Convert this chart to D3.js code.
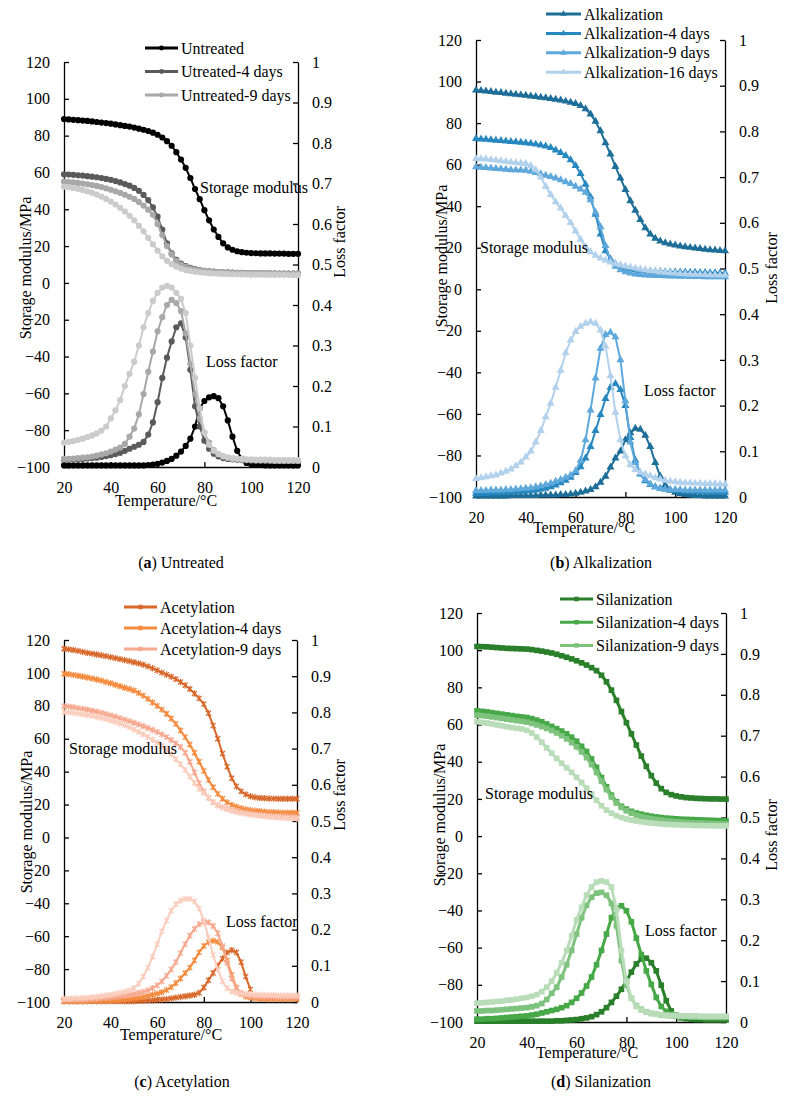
<!DOCTYPE html>
<html>
<head>
<meta charset="utf-8">
<script src="https://cdn.jsdelivr.net/npm/d3@7"></script>
<style>
  body { margin: 0; background: #fff; }
  svg { display: block; }
</style>
</head>
<body>
<div id="fig"></div>
<script>
// temperature grid shared by every curve (°C)
const TEMPS = [20,22,24,26,28,30,32,34,36,38,40,42,44,46,48,50,52,54,56,58,60,62,64,66,68,70,72,74,76,78,80,82,84,86,88,90,92,94,96,98,100,102,104,106,108,110,112,114,116,118,120];

const MOD_TICKS = [-100,-80,-60,-40,-20,0,20,40,60,80,100,120];
const LOSS_TICKS = [0,0.1,0.2,0.3,0.4,0.5,0.6,0.7,0.8,0.9,1];
const TEMP_TICKS = [20,40,60,80,100,120];

// ---- (a) Untreated ----
const untreatedLabels = ["Untreated", "Utreated-4 days", "Untreated-9 days", ""];
const modUntreated   = [89,88.8,88.6,88.4,88.2,88,87.7,87.4,87.1,86.8,86.5,86.1,85.7,85.3,84.9,84.4,83.8,83.2,82.5,81.6,80.5,79,77,74.5,71,67,62.5,57,51,45.5,39.5,34,29,25,21.5,19.3,18,17.2,16.7,16.4,16.2,16.1,16,16,16,15.9,15.9,15.9,15.8,15.8,15.8];
const modUntreated4  = [59,58.9,58.7,58.5,58.3,58,57.7,57.4,57,56.5,56,55.3,54.6,53.7,52.8,51.6,50,47.8,45,41,36,29,21.5,16,12.5,10.5,9.2,8.2,7.5,7,6.6,6.3,6.1,5.9,5.8,5.7,5.6,5.5,5.5,5.4,5.4,5.3,5.3,5.2,5.2,5.1,5.1,5.1,5,5,5];
const modUntreated9  = [55,54.8,54.6,54.3,54,53.6,53.2,52.7,52.1,51.4,50.6,49.8,48.9,47.9,46.8,45.6,44,42,39.8,37,32,26,20,15.5,12,10,8.7,7.8,7.2,6.8,6.5,6.2,6,5.9,5.8,5.7,5.6,5.5,5.5,5.4,5.4,5.3,5.3,5.3,5.2,5.2,5.2,5.1,5.1,5.1,5];
const modUntreatedX  = [52.3,52,51.6,51.1,50.5,49.8,49,48,46.9,45.6,44.2,42.6,40.8,38.8,36.5,34,31,28,24.5,21,17.5,14.5,12,10.2,8.8,7.8,7,6.5,6.1,5.8,5.5,5.3,5.1,5,4.9,4.8,4.7,4.7,4.6,4.6,4.5,4.5,4.5,4.5,4.4,4.4,4.4,4.4,4.3,4.3,4.3];
const lossUntreated  = [0.004,0.004,0.004,0.004,0.004,0.004,0.004,0.004,0.004,0.004,0.004,0.004,0.004,0.004,0.004,0.004,0.004,0.004,0.005,0.006,0.008,0.011,0.015,0.02,0.028,0.038,0.052,0.07,0.1,0.145,0.163,0.172,0.175,0.17,0.15,0.115,0.075,0.04,0.02,0.01,0.006,0.005,0.005,0.004,0.004,0.004,0.004,0.004,0.004,0.004,0.004];
const lossUntreated4 = [0.018,0.018,0.019,0.019,0.02,0.021,0.022,0.023,0.025,0.027,0.029,0.032,0.035,0.04,0.045,0.05,0.055,0.062,0.08,0.11,0.16,0.22,0.27,0.31,0.345,0.355,0.32,0.24,0.15,0.1,0.065,0.045,0.033,0.026,0.022,0.02,0.019,0.018,0.017,0.017,0.016,0.016,0.016,0.016,0.015,0.015,0.015,0.015,0.015,0.015,0.015];
const lossUntreated9 = [0.02,0.02,0.021,0.022,0.023,0.024,0.026,0.028,0.031,0.034,0.038,0.043,0.048,0.057,0.075,0.095,0.13,0.18,0.235,0.285,0.335,0.37,0.4,0.413,0.405,0.385,0.33,0.255,0.18,0.12,0.085,0.06,0.042,0.032,0.026,0.022,0.02,0.019,0.018,0.017,0.017,0.016,0.016,0.016,0.016,0.015,0.015,0.015,0.015,0.015,0.015];
const lossUntreatedX = [0.06,0.062,0.064,0.067,0.07,0.074,0.078,0.083,0.09,0.1,0.12,0.14,0.165,0.2,0.23,0.26,0.3,0.345,0.38,0.41,0.43,0.443,0.447,0.443,0.43,0.415,0.38,0.3,0.22,0.145,0.085,0.055,0.04,0.032,0.027,0.024,0.022,0.021,0.02,0.019,0.019,0.018,0.018,0.018,0.018,0.017,0.017,0.017,0.017,0.017,0.017];

// ---- (b) Alkalization ----
const alkLabels = ["Alkalization", "Alkalization-4 days", "Alkalization-9 days", "Alkalization-16 days"];
const modAlk    = [95.8,95.6,95.4,95.1,94.8,94.6,94.3,94,93.8,93.5,93.3,93,92.7,92.4,92.1,91.8,91.4,91,90.5,90,89.4,88.4,86.8,84.3,80.8,76.2,70.5,65,59,53.5,48,42.5,38,33.5,29.5,26.5,24.5,23.2,22.3,21.7,21.2,20.8,20.4,20.1,19.8,19.5,19.2,19,18.8,18.6,18.4];
const modAlk4   = [72.5,72.3,72.1,71.9,71.7,71.5,71.3,71.1,70.9,70.7,70.5,70.2,69.8,69.4,68.9,68.2,67,65.8,64.3,62.3,59.5,55.7,50.5,44.4,36,26.5,18.5,14.5,12.3,11,10.2,9.7,9.3,9,8.8,8.7,8.6,8.5,8.4,8.3,8.3,8.2,8.2,8.1,8.1,8,8,7.9,7.9,7.8,7.8];
const modAlk9   = [58.9,58.7,58.5,58.3,58.1,57.9,57.7,57.5,57.4,57.3,57.2,56.7,56.1,55.5,54.8,54.2,53.5,52.6,51.7,50.8,49.5,48.2,46.6,43,37,30,21,14,11,9.3,8.3,7.7,7.3,7,6.8,6.7,6.6,6.5,6.4,6.3,6.3,6.2,6.2,6.1,6.1,6.1,6,6,6,6,6];
const modAlk16  = [62.9,62.8,62.6,62.4,62.1,61.8,61.5,61.2,60.9,60.7,60.5,59.5,57.5,54,49.5,45.5,42,39,35.5,32,28,24,20.5,18,16.3,15,14,13,12.3,11.7,11.1,10.6,10.1,9.7,9.3,9,8.7,8.4,8.1,7.9,7.7,7.5,7.4,7.3,7.2,7.1,7,6.9,6.9,6.8,6.8];
const lossAlk   = [0.002,0.002,0.002,0.002,0.002,0.002,0.002,0.003,0.003,0.003,0.003,0.003,0.003,0.004,0.004,0.004,0.004,0.005,0.005,0.006,0.008,0.01,0.013,0.016,0.022,0.032,0.045,0.065,0.085,0.1,0.125,0.14,0.15,0.148,0.135,0.11,0.075,0.045,0.026,0.015,0.01,0.007,0.005,0.004,0.003,0.003,0.002,0.002,0.002,0.002,0.002];
const lossAlk4  = [0.008,0.008,0.008,0.009,0.009,0.01,0.01,0.011,0.011,0.012,0.013,0.014,0.015,0.017,0.019,0.022,0.026,0.031,0.036,0.043,0.053,0.066,0.085,0.11,0.145,0.18,0.215,0.24,0.248,0.235,0.2,0.13,0.08,0.05,0.035,0.027,0.022,0.019,0.017,0.015,0.014,0.013,0.012,0.012,0.011,0.011,0.011,0.01,0.01,0.01,0.01];
const lossAlk9  = [0.014,0.014,0.014,0.015,0.015,0.015,0.016,0.016,0.017,0.018,0.019,0.02,0.022,0.024,0.027,0.03,0.034,0.038,0.043,0.048,0.057,0.08,0.125,0.19,0.26,0.325,0.355,0.36,0.35,0.3,0.21,0.12,0.075,0.052,0.038,0.028,0.022,0.019,0.017,0.016,0.016,0.016,0.015,0.015,0.015,0.015,0.015,0.015,0.015,0.015,0.015];
const lossAlk16 = [0.04,0.042,0.044,0.046,0.048,0.052,0.056,0.061,0.068,0.076,0.087,0.1,0.12,0.145,0.175,0.205,0.24,0.277,0.315,0.343,0.362,0.373,0.38,0.383,0.38,0.365,0.33,0.265,0.185,0.125,0.09,0.07,0.06,0.054,0.05,0.046,0.042,0.039,0.036,0.034,0.033,0.032,0.031,0.031,0.03,0.03,0.029,0.029,0.029,0.028,0.028];

// ---- (c) Acetylation ----
const acetLabels = ["Acetylation", "Acetylation-4 days", "Acetylation-9 days", ""];
const modAcet   = [114.7,114.3,113.9,113.4,112.8,112.2,111.7,111.2,110.7,110.2,109.6,109,108.4,107.8,107.2,106.5,105.8,105,104,102.8,101.5,100.2,99,97.7,96.2,94.5,92.5,90.2,87.5,84.5,81,75.5,68,60,51,43,36,31,28,26.2,25,24.4,24,23.8,23.7,23.6,23.5,23.5,23.5,23.5,23.5];
const modAcet4  = [99.5,99.2,98.8,98.3,97.8,97.2,96.6,96,95.3,94.5,93.7,92.8,91.9,91,90.2,89.3,87.8,86.2,84.2,82,80,77.7,75.2,72.3,69,65,61,56.5,51.5,46,40.5,35,30.5,26.5,23.5,21.3,19.8,18.7,17.8,17.1,16.6,16.2,15.9,15.6,15.4,15.3,15.2,15.1,15,15,15];
const modAcet9  = [79.8,79.5,79.1,78.6,78.1,77.6,77,76.4,75.7,75,74.2,73.4,72.5,71.6,70.7,69.7,68.7,67.6,66.5,65.3,64,62.6,61,59.2,57.2,55,51.5,46,39.5,33,28,24,21.3,19.5,18.3,17.4,16.7,16.1,15.5,15,14.6,14.2,13.8,13.5,13.2,13,12.8,12.6,12.5,12.4,12.3];
const modAcetX  = [76.2,76,75.7,75.3,74.9,74.4,73.9,73.3,72.6,71.9,71.1,70.2,69.2,68.1,66.9,65.6,64.2,62.7,61.1,59.4,57.6,55.6,53.3,50.5,47.5,44.5,41,37,33,29.5,27,24.3,21.5,19.8,18.4,17.2,16.2,15.4,14.8,14.3,13.9,13.5,13.2,12.9,12.6,12.4,12.1,11.9,11.7,11.5,11.4];
const lossAcet  = [0.002,0.002,0.002,0.002,0.002,0.002,0.002,0.002,0.002,0.002,0.002,0.002,0.002,0.002,0.002,0.002,0.003,0.003,0.004,0.005,0.006,0.007,0.008,0.01,0.012,0.014,0.016,0.018,0.02,0.025,0.04,0.06,0.08,0.1,0.12,0.137,0.143,0.137,0.11,0.07,0.035,null,null,null,null,null,null,null,null,null,null];
const lossAcet4 = [0.002,0.002,0.002,0.002,0.002,0.003,0.003,0.003,0.003,0.004,0.004,0.005,0.006,0.007,0.008,0.01,0.012,0.014,0.017,0.02,0.023,0.027,0.033,0.041,0.052,0.065,0.08,0.095,0.115,0.137,0.155,0.165,0.169,0.166,0.15,0.115,0.075,0.04,0.022,0.015,0.012,0.01,0.009,0.009,0.008,0.008,0.008,0.008,0.008,0.008,0.008];
const lossAcet9 = [0.005,0.005,0.006,0.006,0.007,0.007,0.008,0.009,0.01,0.011,0.012,0.014,0.016,0.018,0.02,0.022,0.025,0.028,0.032,0.038,0.046,0.057,0.072,0.09,0.11,0.135,0.16,0.183,0.202,0.215,0.221,0.22,0.21,0.19,0.155,0.108,0.065,0.038,0.025,0.019,0.016,0.015,0.015,0.014,0.014,0.014,0.013,0.013,0.013,0.013,0.013];
const lossAcetX = [0.009,0.009,0.01,0.01,0.011,0.012,0.013,0.014,0.016,0.018,0.02,0.022,0.025,0.028,0.032,0.038,0.05,0.07,0.095,0.125,0.16,0.195,0.225,0.252,0.27,0.28,0.285,0.285,0.278,0.258,0.225,0.178,0.13,0.09,0.057,0.038,0.029,0.025,0.023,0.022,0.021,0.02,0.02,0.019,0.019,0.019,0.018,0.018,0.018,0.018,0.018];

// ---- (d) Silanization ----
const silLabels = ["Silanization", "Silanization-4 days", "Silanization-9 days", ""];
const modSil    = [102,101.9,101.8,101.6,101.4,101.2,101,100.9,100.8,100.7,100.6,100.3,99.9,99.5,99,98.5,97.8,97,96.2,95.3,94.3,93.2,92,90.6,89,86.5,83,78.5,73,67,61,55,49,43,37.5,32.5,28.5,25.5,23.5,22.3,21.6,21.1,20.7,20.5,20.3,20.2,20.1,20,20,19.9,19.9];
const modSil4   = [67.4,67.1,66.8,66.4,66,65.6,65.2,64.8,64.4,64.1,63.8,63.2,62.4,61.5,60.3,59,57.8,56.5,55,53.2,51,48.3,45.5,41.5,37,31.5,26.5,22,18.5,16,14.5,13.3,12.4,11.8,11.2,10.7,10.3,10,9.7,9.5,9.3,9.1,9,8.9,8.8,8.7,8.6,8.5,8.4,8.3,8.2];
const modSil9   = [65.1,64.8,64.5,64.1,63.7,63.3,62.9,62.5,62.1,61.7,61.3,60.6,59.8,58.9,57.9,56.8,55.5,54,52.3,50.3,48,45.3,42.2,38.5,34.2,29.5,25,21,17.8,15.4,13.6,12.3,11.3,10.5,9.9,9.4,9,8.6,8.3,8,7.8,7.6,7.4,7.2,7.1,7,6.9,6.8,6.7,6.6,6.5];
const modSilX   = [61.5,61.2,60.8,60.3,59.8,59.3,58.8,58.4,58,57.6,56.9,55.5,53.3,50.5,47.5,44.6,41.8,39.2,36.8,34.3,31.6,28.8,25.8,22.5,19.3,16.3,14,12.3,11,10,9.2,8.6,8.1,7.7,7.3,7,6.8,6.5,6.3,6.2,6.1,6,5.9,5.8,5.7,5.7,5.6,5.6,5.5,5.5,5.5];
const lossSil   = [0.002,0.002,0.002,0.002,0.002,0.002,0.002,0.002,0.002,0.002,0.002,0.002,0.002,0.002,0.002,0.002,0.003,0.003,0.004,0.005,0.006,0.008,0.01,0.013,0.018,0.025,0.035,0.048,0.063,0.08,0.1,0.122,0.142,0.154,0.156,0.145,0.125,0.09,0.052,0.027,0.015,0.01,0.008,0.007,0.006,0.006,0.005,0.005,0.005,0.005,0.005];
const lossSil4  = [0.007,0.007,0.008,0.008,0.009,0.01,0.011,0.012,0.013,0.014,0.015,0.017,0.019,0.022,0.025,0.028,0.031,0.035,0.04,0.048,0.058,0.071,0.088,0.11,0.14,0.175,0.215,0.255,0.278,0.284,0.272,0.245,0.205,0.165,0.125,0.092,0.06,0.038,0.026,0.02,0.017,0.015,0.014,0.013,0.013,0.012,0.012,0.012,0.012,0.012,0.012];
const lossSil9  = [0.027,0.027,0.028,0.028,0.029,0.03,0.031,0.032,0.033,0.034,0.035,0.037,0.04,0.045,0.055,0.07,0.085,0.11,0.14,0.175,0.215,0.255,0.285,0.305,0.315,0.317,0.31,0.29,0.235,0.15,0.09,0.058,0.04,0.031,0.025,0.021,0.019,0.017,0.016,0.015,0.014,0.013,0.013,0.012,0.012,0.012,0.011,0.011,0.011,0.011,0.011];
const lossSilX  = [0.046,0.047,0.048,0.049,0.05,0.051,0.053,0.054,0.056,0.058,0.06,0.063,0.067,0.074,0.085,0.1,0.12,0.145,0.175,0.21,0.25,0.28,0.31,0.33,0.342,0.345,0.342,0.33,0.275,0.175,0.1,0.058,0.038,0.029,0.024,0.021,0.019,0.018,0.017,0.016,0.016,0.015,0.015,0.015,0.015,0.014,0.014,0.014,0.014,0.014,0.014];

const FONT = "'Liberation Serif', 'Times New Roman', serif";

const MARKS = {
  circle: d3.symbol(d3.symbolCircle, 30)(),
  triangle: d3.symbol(d3.symbolTriangle, 28)(),
  square: d3.symbol(d3.symbolSquare, 32)(),
  star: "M-2.5,-2.5L2.5,2.5M-2.5,2.5L2.5,-2.5M0,-3.2L0,3.2"
};

// layout of the four panels (pixels)
const panels = [
  {
    tag: "a", name: "Untreated", labels: untreatedLabels,
    mod: [modUntreated, modUntreated4, modUntreated9, modUntreatedX],
    loss: [lossUntreated, lossUntreated4, lossUntreated9, lossUntreatedX],
    colors: ["#000000", "#5a5a5a", "#a8a8a8", "#cbcbcb"],
    marker: "circle", lineW: 2,
    x0: 64, x1: 298, yTop: 62, yBot: 467,
    legend: { x: 145, y: 48, dy: 23.5, len: 33 },
    leftTitle: [31, 268], rightTitle: [345, 242], xTitle: [166, 506],
    modNote: [200, 193], lossNote: [206, 367], caption: [181, 568]
  },
  {
    tag: "b", name: "Alkalization", labels: alkLabels,
    mod: [modAlk, modAlk4, modAlk9, modAlk16],
    loss: [lossAlk, lossAlk4, lossAlk9, lossAlk16],
    colors: ["#1d6e98", "#2787bf", "#5ea8db", "#b2d1ec"],
    marker: "triangle", lineW: 2,
    x0: 476, x1: 725, yTop: 40, yBot: 497,
    legend: { x: 546, y: 14, dy: 19.4, len: 35 },
    leftTitle: [447, 256], rightTitle: [777, 268], xTitle: [584, 533],
    modNote: [480, 253], lossNote: [644, 396], caption: [601, 568]
  },
  {
    tag: "c", name: "Acetylation", labels: acetLabels,
    mod: [modAcet, modAcet4, modAcet9, modAcetX],
    loss: [lossAcet, lossAcet4, lossAcet9, lossAcetX],
    colors: ["#d8672a", "#f48b3e", "#f7a98f", "#fbcdbd"],
    marker: "star", lineW: 2,
    x0: 64, x1: 297, yTop: 640, yBot: 1002,
    legend: { x: 124, y: 607, dy: 21, len: 33 },
    leftTitle: [32, 822], rightTitle: [345, 795], xTitle: [171, 1040],
    modNote: [69, 754], lossNote: [226, 927], caption: [182, 1087]
  },
  {
    tag: "d", name: "Silanization", labels: silLabels,
    mod: [modSil, modSil4, modSil9, modSilX],
    loss: [lossSil, lossSil4, lossSil9, lossSilX],
    colors: ["#2a7f2a", "#47a847", "#7dc27d", "#b9dcb9"],
    marker: "square", lineW: 3,
    x0: 477, x1: 726, yTop: 613, yBot: 1022,
    legend: { x: 560, y: 599, dy: 23.2, len: 33 },
    leftTitle: [445, 815], rightTitle: [777, 835], xTitle: [587, 1058],
    modNote: [485, 799], lossNote: [645, 936], caption: [601, 1087]
  }
];

const svg = d3.select("#fig").append("svg")
  .attr("width", 788)
  .attr("height", 1096)
  .attr("font-family", FONT);

function styleAxis(ax) {
  ax.attr("font-family", FONT).attr("font-size", null);
  ax.selectAll("text").attr("font-size", 16).attr("fill", "#000");
  ax.selectAll("path, line").attr("stroke", "#000").attr("stroke-width", 1.3);
}

function drawMarkers(g, pts, x, y, p, color) {
  const star = p.marker === "star";
  g.append("g")
    .selectAll("path")
    .data(pts.filter(d => d[1] != null))
    .join("path")
    .attr("transform", d => `translate(${x(d[0])},${y(d[1])})`)
    .attr("d", MARKS[p.marker])
    .attr("fill", star ? "none" : color)
    .attr("stroke", star ? color : "none")
    .attr("stroke-width", 1.2);
}

function drawPanel(p) {
  const x = d3.scaleLinear().domain([20, 120]).range([p.x0, p.x1]);
  const yMod = d3.scaleLinear().domain([-100, 120]).range([p.yBot, p.yTop]);
  const yLoss = d3.scaleLinear().domain([0, 1]).range([p.yBot, p.yTop]);
  const g = svg.append("g");

  // axes
  styleAxis(g.append("g")
    .attr("transform", `translate(${p.x0},0)`)
    .call(d3.axisLeft(yMod).tickValues(MOD_TICKS).tickSizeInner(-5).tickSizeOuter(0).tickPadding(14)));
  styleAxis(g.append("g")
    .attr("transform", `translate(${p.x1},0)`)
    .call(d3.axisRight(yLoss).tickValues(LOSS_TICKS).tickFormat(d => String(d))
      .tickSizeInner(-5).tickSizeOuter(0).tickPadding(14)));
  styleAxis(g.append("g")
    .attr("transform", `translate(0,${p.yBot})`)
    .call(d3.axisBottom(x).tickValues(TEMP_TICKS).tickSizeInner(-5).tickSizeOuter(0).tickPadding(15)));

  // curves
  const curve = y => d3.line()
    .defined(d => d[1] != null)
    .x(d => x(d[0]))
    .y(d => y(d[1]));

  [[p.mod, yMod], [p.loss, yLoss]].forEach(([set, y]) => {
    set.forEach((vals, i) => {
      const pts = TEMPS.map((t, k) => [t, vals[k]]);
      g.append("path")
        .datum(pts)
        .attr("d", curve(y))
        .attr("fill", "none")
        .attr("stroke", p.colors[i])
        .attr("stroke-width", p.lineW)
        .attr("stroke-linejoin", "round");
      drawMarkers(g, pts, x, y, p, p.colors[i]);
    });
  });

  // legend (unlabelled series are left out)
  const leg = g.append("g");
  p.labels.forEach((label, i) => {
    if (!label) return;
    const ly = p.legend.y + i * p.legend.dy;
    leg.append("line")
      .attr("x1", p.legend.x).attr("x2", p.legend.x + p.legend.len)
      .attr("y1", ly).attr("y2", ly)
      .attr("stroke", p.colors[i]).attr("stroke-width", 3);
    const mx = p.legend.x + p.legend.len / 2;
    leg.append("path")
      .attr("transform", `translate(${mx},${ly}) scale(0.8)`)
      .attr("d", MARKS[p.marker])
      .attr("fill", p.marker === "star" ? "none" : p.colors[i])
      .attr("stroke", p.marker === "star" ? p.colors[i] : "none")
      .attr("stroke-width", 1.4);
    leg.append("text")
      .attr("x", p.legend.x + p.legend.len + 3)
      .attr("y", ly)
      .attr("dy", "0.35em")
      .attr("font-size", 16)
      .text(label);
  });

  // axis titles
  g.append("text")
    .attr("transform", `translate(${p.leftTitle[0]},${p.leftTitle[1]}) rotate(-90)`)
    .attr("text-anchor", "middle")
    .attr("font-size", 16)
    .text("Storage modulus/MPa");
  g.append("text")
    .attr("transform", `translate(${p.rightTitle[0]},${p.rightTitle[1]}) rotate(-90)`)
    .attr("text-anchor", "middle")
    .attr("font-size", 16)
    .text("Loss factor");
  g.append("text")
    .attr("x", p.xTitle[0]).attr("y", p.xTitle[1])
    .attr("text-anchor", "middle")
    .attr("font-size", 16)
    .text("Temperature/\u00B0C");

  // in-plot notes
  g.append("text").attr("x", p.modNote[0]).attr("y", p.modNote[1])
    .attr("font-size", 16).text("Storage modulus");
  g.append("text").attr("x", p.lossNote[0]).attr("y", p.lossNote[1])
    .attr("font-size", 16).text("Loss factor");

  // caption
  const cap = g.append("text")
    .attr("x", p.caption[0]).attr("y", p.caption[1])
    .attr("text-anchor", "middle")
    .attr("font-size", 16);
  cap.append("tspan").text("(");
  cap.append("tspan").attr("font-weight", "bold").text(p.tag);
  cap.append("tspan").text(") " + p.name);
}

panels.forEach(drawPanel);
</script>
</body>
</html>
